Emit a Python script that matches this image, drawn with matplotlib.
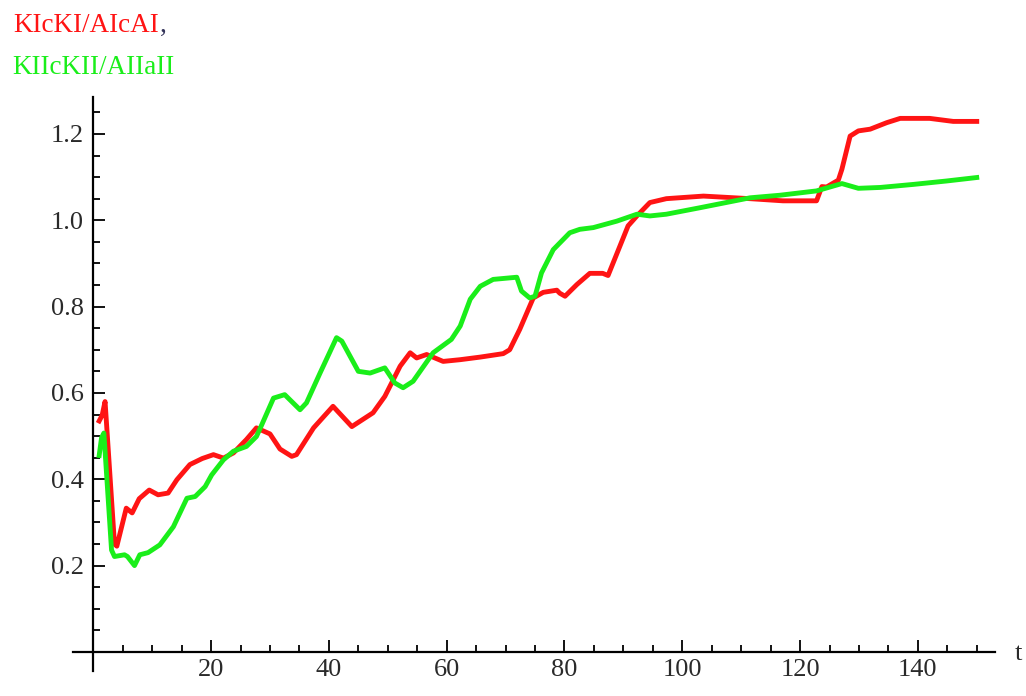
import matplotlib
matplotlib.use("Agg")
import matplotlib.pyplot as plt
from matplotlib.ticker import MultipleLocator

# Ratio series over time t
red_t = [1.0, 1.5, 2.0, 3.6, 4.0, 5.6, 6.6, 7.8, 9.5, 11.0, 12.7, 14.2, 16.4, 18.5,
         20.4, 22.1, 23.8, 26.0, 27.7, 30.0, 31.7, 33.7, 34.5, 37.4, 40.7, 43.9,
         47.5, 49.5, 52.1, 53.8, 54.9, 56.6, 59.4, 62.3, 65.7, 69.6, 70.7, 72.4,
         74.7, 76.4, 78.7, 79.2, 80.1, 82.1, 84.3, 86.5, 87.4, 90.8, 92.3, 94.5,
         97.3, 103.6, 111.5, 117.1, 122.8, 123.7, 124.5, 126.5, 127.1, 128.5,
         129.9, 131.9, 134.7, 137.0, 142.0, 146.0, 150.0]
red_y = [0.535, 0.548, 0.580, 0.250, 0.245, 0.333, 0.322, 0.355, 0.375, 0.364,
         0.368, 0.399, 0.434, 0.448, 0.457, 0.449, 0.461, 0.492, 0.519, 0.505,
         0.470, 0.453, 0.457, 0.519, 0.569, 0.522, 0.554, 0.592, 0.662, 0.693,
         0.681, 0.689, 0.673, 0.677, 0.683, 0.691, 0.700, 0.747, 0.820, 0.833,
         0.838, 0.831, 0.824, 0.851, 0.877, 0.877, 0.872, 0.987, 1.010, 1.041,
         1.050, 1.056, 1.050, 1.045, 1.045, 1.078, 1.077, 1.093, 1.118, 1.195,
         1.207, 1.211, 1.226, 1.236, 1.236, 1.229, 1.229]

green_t = [1.0, 1.4, 1.8, 3.1, 3.6, 5.3, 5.8, 7.0, 7.9, 9.3, 11.3, 13.6, 15.9,
           17.3, 19.0, 20.1, 22.1, 23.8, 26.0, 27.7, 28.6, 30.6, 32.5, 35.1,
           36.2, 38.5, 41.3, 42.2, 45.0, 47.0, 49.5, 51.2, 52.6, 54.3, 57.7,
           60.8, 62.3, 64.0, 65.7, 67.9, 71.9, 72.7, 74.1, 75.0, 76.1, 78.1,
           80.9, 82.6, 84.9, 88.9, 92.3, 94.5, 97.3, 103.0, 111.5, 116.6, 122.8,
           127.1, 129.9, 133.6, 139.2, 144.9, 150.0]
green_y = [0.455, 0.496, 0.507, 0.236, 0.221, 0.225, 0.221, 0.200, 0.225, 0.230,
           0.248, 0.290, 0.356, 0.360, 0.383, 0.410, 0.445, 0.465, 0.476, 0.499,
           0.526, 0.588, 0.596, 0.561, 0.577, 0.646, 0.728, 0.720, 0.650, 0.646,
           0.658, 0.623, 0.612, 0.627, 0.693, 0.724, 0.755, 0.817, 0.847, 0.863,
           0.868, 0.836, 0.820, 0.824, 0.878, 0.932, 0.971, 0.979, 0.983, 0.998,
           1.014, 1.010, 1.014, 1.029, 1.052, 1.058, 1.068, 1.085, 1.074, 1.076,
           1.083, 1.091, 1.099]

x_major = [20, 40, 60, 80, 100, 120, 140]
y_major = [0.2, 0.4, 0.6, 0.8, 1.0, 1.2]
y_labels = ["0.2", "0.4", "0.6", "0.8", "1.0", "1.2"]

RED = "#ff1414"
GREEN = "#1aee1a"
TEXT = "#2a2a2a"
SERIF = ["Liberation Serif", "DejaVu Serif"]

fig = plt.figure(figsize=(10.26, 6.96), dpi=100)
ax = fig.add_axes([0.0714, 0.0363, 0.8984, 0.8240])

ax.plot(red_t, red_y, color=RED, lw=3.5, solid_joinstyle="round", zorder=3)
ax.plot(green_t, green_y, color=GREEN, lw=3.5, solid_joinstyle="round", zorder=3)

ax.set_xlim(-3.4, 153.1)
ax.set_ylim(-0.0436, 1.285)

# axes crossing at the origin
for side in ("top", "right"):
    ax.spines[side].set_visible(False)
ax.spines["left"].set_position(("data", 0))
ax.spines["bottom"].set_position(("data", 0))
for side in ("left", "bottom"):
    ax.spines[side].set_linewidth(1.6)
    ax.spines[side].set_color("black")

ax.set_xticks(x_major)
ax.set_xticklabels([str(v) for v in x_major])
ax.xaxis.set_minor_locator(MultipleLocator(5))
ax.set_yticks(y_major)
ax.set_yticklabels(y_labels)
ax.yaxis.set_minor_locator(MultipleLocator(0.05))

ax.tick_params(which="major", direction="in", length=8.4, width=1.3,
               colors="black", labelcolor=TEXT, labelsize=19)
ax.tick_params(which="minor", direction="in", length=4.8, width=1.3, colors="black")
ax.tick_params(axis="x", which="major", pad=5)
ax.tick_params(axis="y", which="major", pad=7)
for lab in ax.get_xticklabels() + ax.get_yticklabels():
    lab.set_family(SERIF)

ax.set_xlim(-3.4, 153.1)
ax.set_ylim(-0.0436, 1.285)

fig.text(0.989, 0.0517, "t", family=SERIF, fontsize=19, color=TEXT,
         ha="left", va="baseline")

# series captions at the top left
t1 = fig.text(0.0127, 0.954, "KIcKI/AIcAI", family=SERIF, fontsize=19.5,
              color=RED, ha="left", va="baseline")
fig.canvas.draw()
bb = t1.get_window_extent()
fig.text(bb.x1 / fig.bbox.width + 0.001, 0.954, ",", family=SERIF, fontsize=19.5,
         color="#33335a", ha="left", va="baseline")
fig.text(0.0124, 0.8937, "KIIcKII/AIIaII", family=SERIF, fontsize=19.5,
         color=GREEN, ha="left", va="baseline")

fig.savefig("out.png", dpi=100, facecolor="white")
